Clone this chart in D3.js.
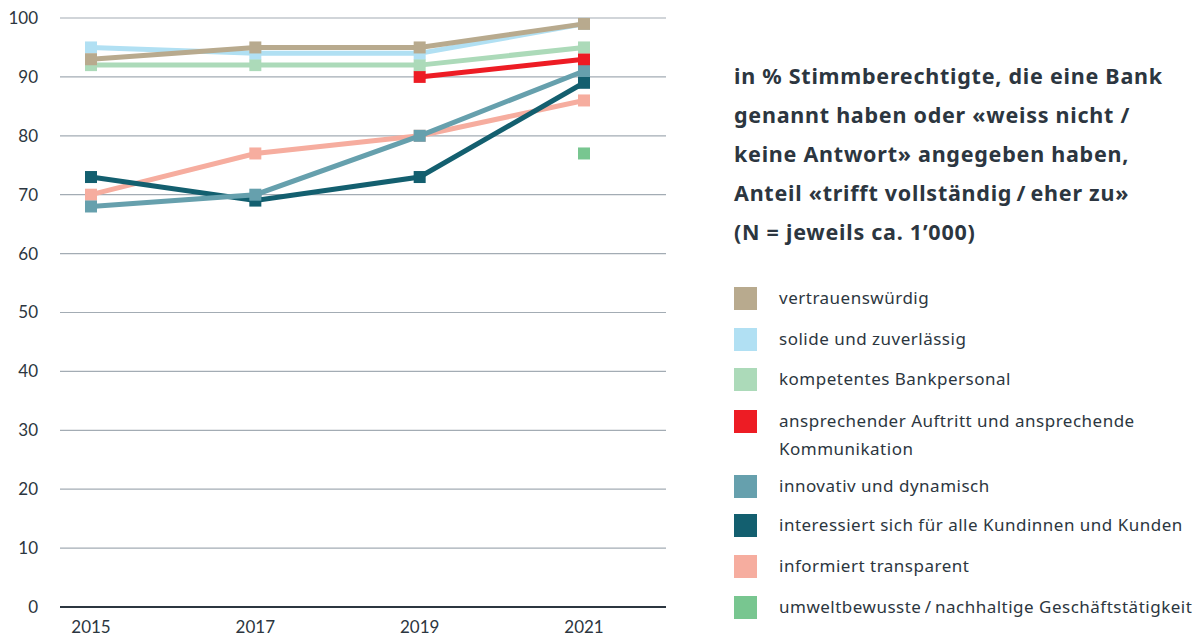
<!DOCTYPE html>
<html>
<head>
<meta charset="utf-8">
<script src="https://cdn.jsdelivr.net/npm/d3@7"></script>
<style>
  body { margin: 0; background: #fff; font-family: Lato, "Noto Sans", sans-serif; }
</style>
</head>
<body>
<div class="chart"></div>
<script>
const years = [2015, 2017, 2019, 2021];
const seriesNames = [
  "vertrauenswürdig",
  "solide und zuverlässig",
  "kompetentes Bankpersonal",
  "ansprechender Auftritt und ansprechende Kommunikation",
  "innovativ und dynamisch",
  "interessiert sich für alle Kundinnen und Kunden",
  "informiert transparent",
  "umweltbewusste / nachhaltige Geschäftstätigkeit"
];
const vertrauen = [93, 95, 95, 99];
const solide = [95, 94, 94, 99];
const kompetent = [92, 92, 92, 95];
const auftritt = [null, null, 90, 93];
const innovativ = [68, 70, 80, 91];
const interessiert = [73, 69, 73, 89];
const informiert = [70, 77, 80, 86];
const umwelt = [null, null, null, 77];
const seriesValues = [vertrauen, solide, kompetent, auftritt, innovativ, interessiert, informiert, umwelt];
const colors = ["#b8aa8e", "#b1e0f3", "#acdab9", "#ed1c24", "#66a0ad", "#135f6f", "#f6ad9f", "#78c690"];
const yTicks = [0, 10, 20, 30, 40, 50, 60, 70, 80, 90, 100];
const titleLines = [
  "in % Stimmberechtigte, die eine Bank",
  "genannt haben oder «weiss nicht /",
  "keine Antwort» angegeben haben,",
  "Anteil «trifft vollständig\u2009/\u2009eher zu»",
  "(N = jeweils ca. 1’000)"
];
const legendLines = [
  ["vertrauenswürdig"],
  ["solide und zuverlässig"],
  ["kompetentes Bankpersonal"],
  ["ansprechender Auftritt und ansprechende", "Kommunikation"],
  ["innovativ und dynamisch"],
  ["interessiert sich für alle Kundinnen und Kunden"],
  ["informiert transparent"],
  ["umweltbewusste\u2009/\u2009nachhaltige Geschäftstätigkeit"]
];

const width = 1195, height = 636;
const textColor = "#2c3640";

const svg = d3.select(".chart").append("svg")
  .attr("width", width).attr("height", height);

const x = d3.scalePoint().domain(years).range([91, 584]);
const y = d3.scaleLinear().domain([0, 100]).range([607, 18]);

// grid
svg.append("g").selectAll("line")
  .data(yTicks.filter(d => d > 0))
  .join("line")
  .attr("x1", 60).attr("x2", 666)
  .attr("y1", d => y(d)).attr("y2", d => y(d))
  .attr("stroke", "#a3acb4").attr("stroke-width", 1.2);

svg.append("line")
  .attr("x1", 60).attr("x2", 666)
  .attr("y1", y(0)).attr("y2", y(0))
  .attr("stroke", "#2c3640").attr("stroke-width", 2);

// y labels
svg.append("g").selectAll("text")
  .data(yTicks)
  .join("text")
  .attr("x", 38).attr("y", d => y(d))
  .attr("dy", "0.35em")
  .attr("text-anchor", "end")
  .attr("font-size", 17)
  .attr("fill", textColor)
  .text(d => d);

// x labels
svg.append("g").selectAll("text")
  .data(years)
  .join("text")
  .attr("x", d => x(d)).attr("y", 633)
  .attr("text-anchor", "middle")
  .attr("font-size", 17)
  .attr("fill", textColor)
  .text(d => d);

// series, drawn in reverse legend order
const line = d3.line()
  .defined(d => d.v != null)
  .x(d => x(d.year)).y(d => y(d.v));

const order = d3.range(seriesValues.length).reverse();
order.forEach(i => {
  const pts = years.map((yr, j) => ({ year: yr, v: seriesValues[i][j] }));
  const g = svg.append("g");
  g.append("path")
    .datum(pts)
    .attr("d", line)
    .attr("fill", "none")
    .attr("stroke", colors[i])
    .attr("stroke-width", 5);
  g.selectAll("rect")
    .data(pts.filter(d => d.v != null))
    .join("rect")
    .attr("x", d => x(d.year) - 6)
    .attr("y", d => y(d.v) - 6)
    .attr("width", 12).attr("height", 12)
    .attr("fill", colors[i]);
});

// title
svg.append("g").selectAll("text")
  .data(titleLines)
  .join("text")
  .attr("x", 734)
  .attr("y", (d, i) => 84 + i * 39)
  .attr("font-family", "'Noto Sans', sans-serif")
  .attr("font-size", 21.5)
  .attr("font-weight", 700)
  .attr("letter-spacing", 0.75)
  .attr("fill", textColor)
  .text(d => d);

// legend
const legendY = [298, 339, 379, 421, 486, 525, 566, 607];
legendLines.forEach((lines, i) => {
  const g = svg.append("g").attr("transform", `translate(734, ${legendY[i]})`);
  g.append("rect")
    .attr("x", 0).attr("y", -11)
    .attr("width", 23).attr("height", 23)
    .attr("fill", colors[i]);
  lines.forEach((t, k) => {
    g.append("text")
      .attr("x", 45).attr("y", k * 28)
      .attr("dy", "0.35em")
      .attr("font-family", "'Noto Sans', sans-serif")
      .attr("font-size", 17)
      .attr("letter-spacing", 0.5)
      .attr("fill", textColor)
      .text(t);
  });
});
</script>
</body>
</html>
